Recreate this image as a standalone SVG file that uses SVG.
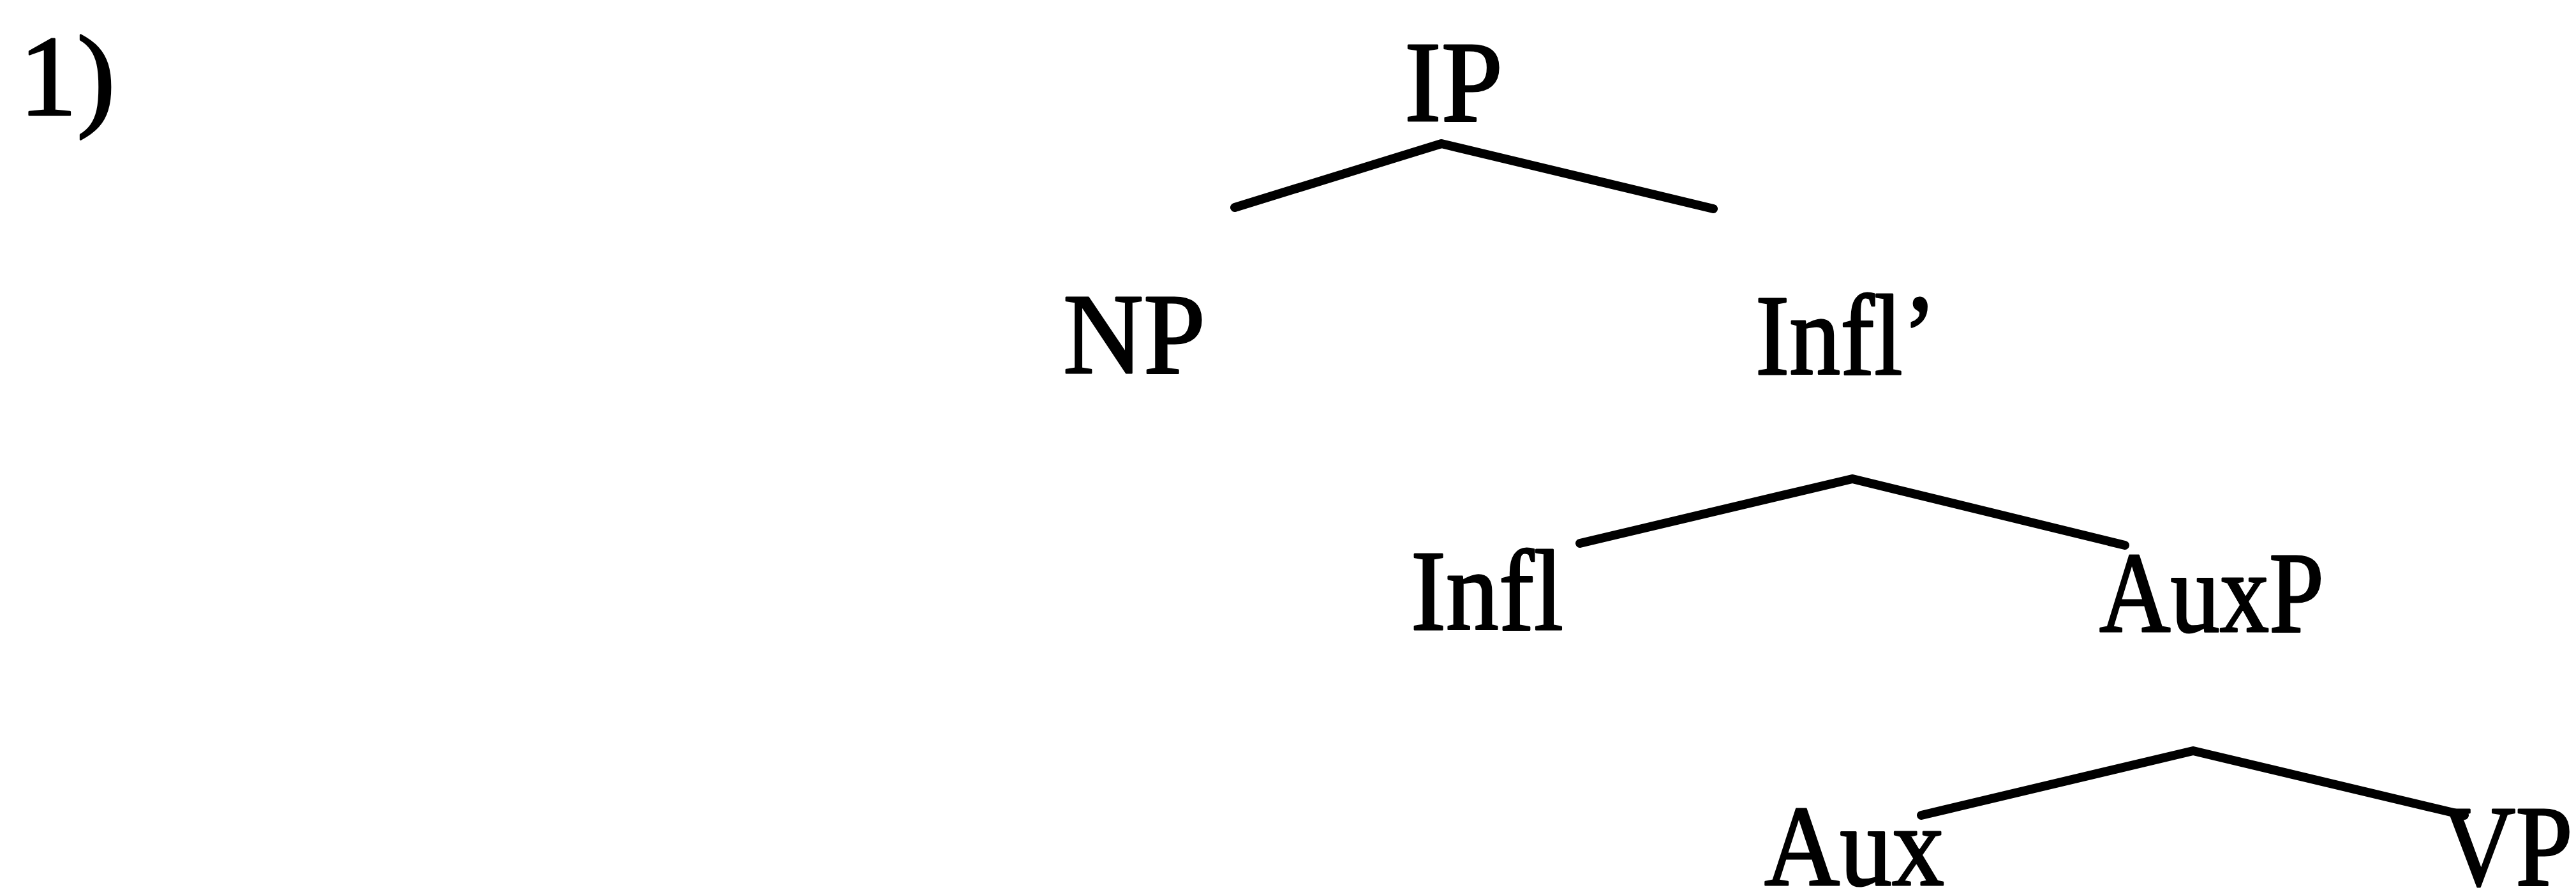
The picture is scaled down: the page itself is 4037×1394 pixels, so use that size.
<svg xmlns="http://www.w3.org/2000/svg" width="4037" height="1394" viewBox="0 0 4037 1394">
<style>
  .lbl { font-family: "Liberation Serif", "Times New Roman", serif; font-size: 181px; fill: #000; stroke: #000; stroke-width: 3; stroke-linejoin: round; }
  .edge { fill: none; stroke: #000; stroke-width: 14; stroke-linejoin: round; stroke-linecap: round; }
</style>
<rect x="0" y="0" width="4037" height="1394" fill="#fff"/>
<g id="example-number"><text class="lbl" x="30" y="180">1)</text></g>
<g id="connectors">
  <polyline class="edge" points="1935,325 2259,225 2685,327"/>
  <polyline class="edge" points="2476,851 2903,750 3330,854"/>
  <polyline class="edge" points="3011,1277 3437,1176 3862,1277"/>
</g>
<g id="node-IP"><text class="lbl" x="2201" y="189" textLength="154" lengthAdjust="spacingAndGlyphs">IP</text></g>
<g id="node-NP"><text class="lbl" x="1666" y="584" textLength="223" lengthAdjust="spacingAndGlyphs">NP</text></g>
<g id="node-InflBar"><text class="lbl" x="2751" y="586" textLength="284" lengthAdjust="spacingAndGlyphs">Infl’</text></g>
<g id="node-Infl"><text class="lbl" x="2211" y="986" textLength="239" lengthAdjust="spacingAndGlyphs">Infl</text></g>
<g id="node-AuxP"><text class="lbl" x="3290" y="989" textLength="352" lengthAdjust="spacingAndGlyphs">AuxP</text></g>
<g id="node-Aux"><text class="lbl" x="2765" y="1386" textLength="282" lengthAdjust="spacingAndGlyphs">Aux</text></g>
<g id="node-VP"><text class="lbl" x="3826" y="1386" textLength="206" lengthAdjust="spacingAndGlyphs">VP</text></g>
</svg>
